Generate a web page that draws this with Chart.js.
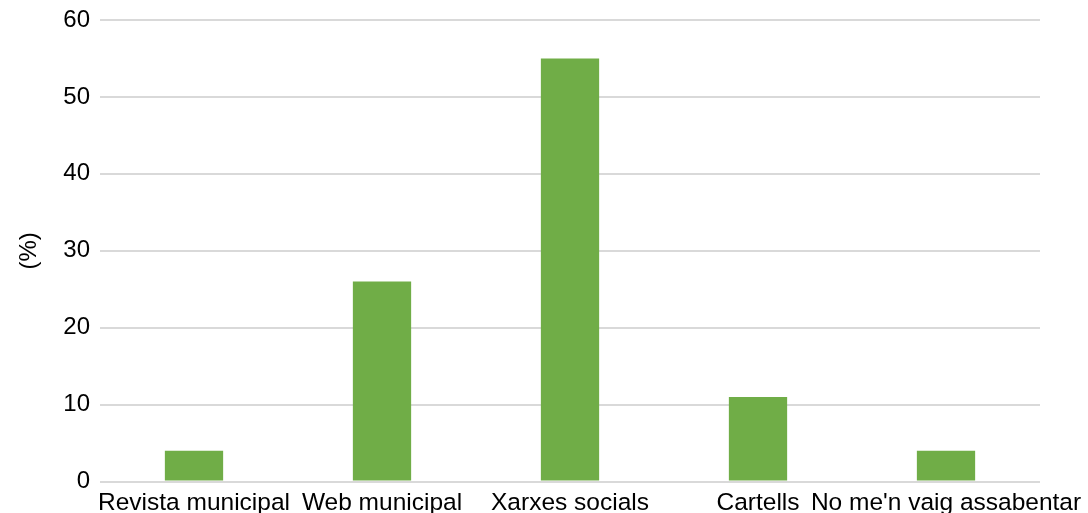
<!DOCTYPE html>
<html>
<head>
<meta charset="utf-8">
<script src="https://cdn.jsdelivr.net/npm/chart.js@4"></script>
<style>
  html, body { margin: 0; padding: 0; background: #fff; overflow: hidden; }
  #wrap { width: 1088px; height: 525px; position: relative; }
</style>
</head>
<body>
<div id="wrap"><canvas id="mediaChart"></canvas></div>
<script>
const categories = ['Revista municipal', 'Web municipal', 'Xarxes socials', 'Cartells', "No me'n vaig assabentar"];
const percentValues = [4, 26, 55, 11, 4];
const yTicks = [0, 10, 20, 30, 40, 50, 60];
const yTitle = '(%)';

const ctx = document.getElementById('mediaChart').getContext('2d');

new Chart(ctx, {
    type: 'bar',
    data: {
        labels: categories,
        datasets: [{
            data: percentValues,
            backgroundColor: '#70AD47',
            barPercentage: 0.31,
            categoryPercentage: 1.0
        }]
    },
    options: {
        responsive: true,
        maintainAspectRatio: false,
        animation: false,
        layout: {
            padding: { top: 0, right: 48, left: 0, bottom: 0 }
        },
        plugins: {
            legend: { display: false },
            tooltip: { enabled: false }
        },
        scales: {
            x: {
                afterFit(scale) { scale.paddingLeft = 0; scale.paddingRight = 0; },
                grid: { display: false, drawTicks: false },
                border: { display: false },
                ticks: {
                    autoSkip: false,
                    maxRotation: 0,
                    minRotation: 0,
                    padding: 7,
                    color: '#000',
                    font: { family: 'Liberation Sans, Arial, sans-serif', size: 24.5 }
                }
            },
            y: {
                min: 0,
                max: 60,
                afterFit(scale) { scale.width = 100; scale.paddingTop = 20; },
                afterBuildTicks(scale) { scale.ticks = yTicks.map(v => ({ value: v })); },
                grid: { color: '#d9d9d9', lineWidth: 2, drawTicks: false },
                border: { display: false },
                ticks: {
                    padding: 10,
                    color: '#000',
                    font: { family: 'Liberation Sans, Arial, sans-serif', size: 24, lineHeight: 1 }
                },
                title: {
                    display: true,
                    text: yTitle,
                    color: '#000',
                    padding: { top: 15, bottom: 0 },
                    font: { family: 'Liberation Sans, Arial, sans-serif', size: 24 }
                }
            }
        }
    }
});
</script>
</body>
</html>
